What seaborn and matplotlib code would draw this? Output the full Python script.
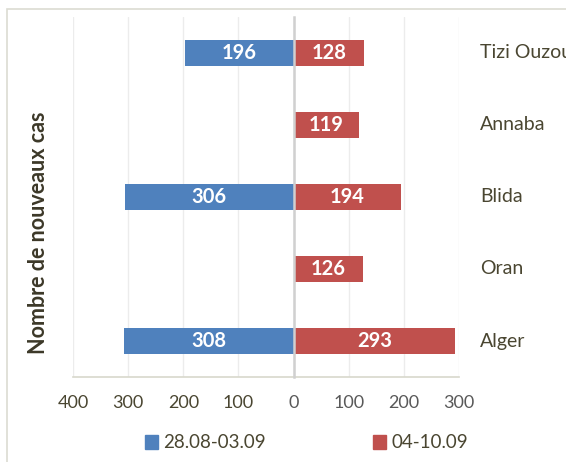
import pandas as pd
import seaborn as sns
import matplotlib.pyplot as plt
from matplotlib.patches import Rectangle

# data
regions = ['Tizi Ouzou', 'Annaba', 'Blida', 'Oran', 'Alger']
periods = ['28.08-03.09', '04-10.09']
week1 = [196, None, 306, None, 308]   # left side (blue)
week2 = [128, 119, 194, 126, 293]     # right side (red)
xticks = [-400, -300, -200, -100, 0, 100, 200, 300]

blue = '#4F81BD'
red = '#C0504D'
txt = '#4a4631'

rows = []
for r, a, b in zip(regions, week1, week2):
    if a is not None:
        rows.append({'region': r, 'period': periods[0], 'value': -a})
    rows.append({'region': r, 'period': periods[1], 'value': b})
df = pd.DataFrame(rows)

sns.set_style('white')
plt.rcParams['font.family'] = ['Lato', 'DejaVu Sans']

fig = plt.figure(figsize=(5.66, 4.62), dpi=100)
ax = fig.add_axes([73 / 566, 1 - 377 / 462, 386 / 566, 360 / 462])

sns.barplot(data=df, y='region', x='value', hue='period', order=regions,
            hue_order=periods, palette=[blue, red], dodge=False, width=0.36,
            orient='h', ax=ax, legend=False, saturation=1, edgecolor='none')

ax.set_xlim(-400, 300)
ax.set_ylim(4.5, -0.5)
ax.set_xticks(xticks)
ax.set_xticklabels([str(abs(t)) for t in xticks])
ax.set_yticks([i - 0.5 for i in range(len(regions) + 1)])
ax.set_yticklabels([])
ax.grid(axis='x', color='#ececec', lw=1)
ax.set_axisbelow(True)
ax.set_xlabel('')
ax.set_ylabel('')

for s in ['top', 'right']:
    ax.spines[s].set_visible(False)
ax.spines['left'].set_position(('data', 0))
ax.spines['left'].set_color('#d0d0d0')
ax.spines['left'].set_linewidth(1.8)
ax.spines['left'].set_zorder(3)
ax.spines['bottom'].set_color('#d8d8cc')
ax.spines['bottom'].set_linewidth(1.2)
ax.tick_params(axis='x', color='#d8d8cc', length=4, width=1.2, pad=9,
               labelsize=13)
ax.tick_params(axis='y', color='#d0d0d0', length=4, width=1.2, direction='out')
for t, lab in zip(xticks, ax.get_xticklabels()):
    lab.set_color(txt if t < 0 else '#595959')

# value labels
for i, (a, b) in enumerate(zip(week1, week2)):
    if a is not None:
        ax.text(-a / 2, i, str(a), color='white', fontweight='bold',
                fontsize=14.5, ha='center', va='center')
    ax.text(b / 2, i, str(b), color='white', fontweight='bold',
            fontsize=14.5, ha='center', va='center')

# category names on the right
for i, r in enumerate(regions):
    ax.text(1.055, i, r, transform=ax.get_yaxis_transform(), color=txt,
            fontsize=14, ha='left', va='center')

fig.text(39 / 566, 1 - 233 / 462, 'Nombre de nouveaux cas', rotation=90,
         fontweight='bold', fontsize=15.5, color='#3c3828', ha='center', va='center')

handles = [Rectangle((0, 0), 1, 1, color=blue), Rectangle((0, 0), 1, 1, color=red)]
fig.legend(handles, periods, loc='center', bbox_to_anchor=(306.5 / 566, 1 - 443 / 462),
           ncol=2, frameon=False, fontsize=13.5, handlelength=0.7, handleheight=0.7,
           handletextpad=0.3, columnspacing=5.7, labelcolor=txt,
           borderaxespad=0, borderpad=0)

fig.patches.append(Rectangle((7 / 566, -0.1), 1.2, 1 - 9 / 462 + 0.1, fill=False,
                             edgecolor='#dcdcd2', lw=1.2, transform=fig.transFigure))

fig.savefig('out.png', dpi=100)
